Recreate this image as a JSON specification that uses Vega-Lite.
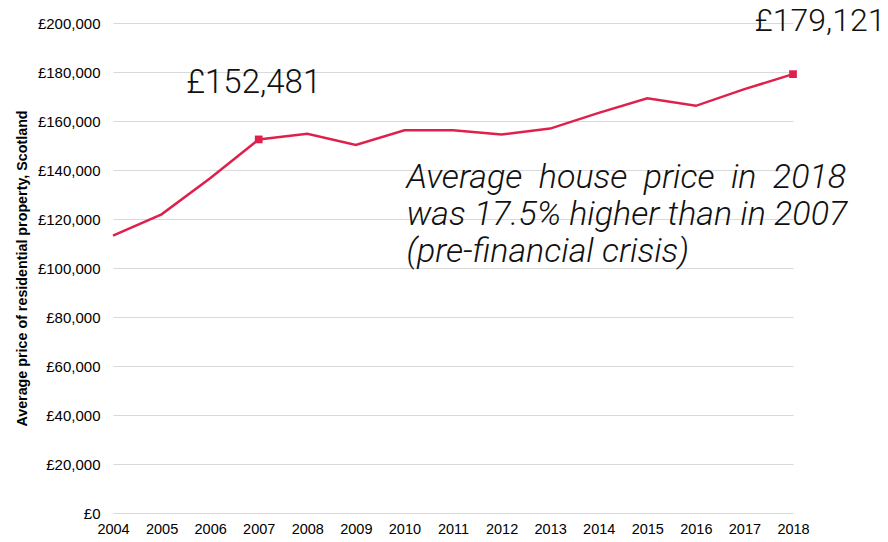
{
  "$schema": "https://vega.github.io/schema/vega-lite/v6.json",
  "autosize": "none",
  "width": 680,
  "height": 490,
  "padding": {"left": 113, "top": 23, "right": 95, "bottom": 29},
  "background": "white",
  "config": {
    "view": {"stroke": null},
    "font": "Liberation Sans"
  },
  "data": {
    "values": [
      {"year": "2004", "price": 113200},
      {"year": "2005", "price": 121900},
      {"year": "2006", "price": 136600},
      {"year": "2007", "price": 152481, "label": "£152,481"},
      {"year": "2008", "price": 154800},
      {"year": "2009", "price": 150200},
      {"year": "2010", "price": 156200},
      {"year": "2011", "price": 156200},
      {"year": "2012", "price": 154500},
      {"year": "2013", "price": 156900},
      {"year": "2014", "price": 163300},
      {"year": "2015", "price": 169300},
      {"year": "2016", "price": 166200},
      {"year": "2017", "price": 173000},
      {"year": "2018", "price": 179121, "label": "£179,121"}
    ]
  },
  "encoding": {
    "x": {
      "field": "year",
      "type": "ordinal",
      "scale": {"type": "point", "padding": 0},
      "axis": {
        "title": null,
        "labelAngle": 0,
        "domain": false,
        "ticks": false,
        "grid": false,
        "labelFont": "Liberation Sans",
        "labelFontSize": 14.5,
        "labelColor": "#000000",
        "labelPadding": 9
      }
    },
    "y": {
      "field": "price",
      "type": "quantitative",
      "scale": {"domain": [0, 200000], "nice": false},
      "axis": {
        "title": "Average price of residential property, Scotland",
        "titleFont": "Liberation Sans",
        "titleFontSize": 14.3,
        "titleFontWeight": "bold",
        "titleColor": "#000000",
        "titlePadding": 8,
        "values": [0, 20000, 40000, 60000, 80000, 100000, 120000, 140000, 160000, 180000, 200000],
        "labelExpr": "'£' + format(datum.value, ',')",
        "labelFont": "Liberation Sans",
        "labelFontSize": 15,
        "labelColor": "#000000",
        "labelPadding": 13,
        "domain": false,
        "ticks": false,
        "grid": true,
        "gridColor": "#d9d9d9",
        "gridWidth": 1
      }
    }
  },
  "layer": [
    {
      "mark": {"type": "line", "color": "#e0204c", "strokeWidth": 2.5}
    },
    {
      "transform": [{"filter": "datum.label != null"}],
      "mark": {"type": "square", "color": "#e0204c", "size": 60, "opacity": 1}
    },
    {
      "transform": [{"filter": "datum.year == '2007'"}],
      "mark": {"type": "text", "font": "Roboto", "fontWeight": 300, "fontSize": 33, "align": "center", "baseline": "alphabetic", "dx": -5, "dy": -46, "color": "#111111"},
      "encoding": {"text": {"field": "label"}}
    },
    {
      "transform": [{"filter": "datum.year == '2018'"}],
      "mark": {"type": "text", "font": "Roboto", "fontWeight": 300, "fontSize": 32, "align": "center", "baseline": "alphabetic", "dx": 27, "dy": -43, "color": "#111111"},
      "encoding": {"text": {"field": "label"}}
    },
    {
      "data": {"values": [{"year": "2010", "price": 132650, "note": ["Average\u00a0\u00a0house\u00a0\u00a0price\u00a0\u00a0in\u00a0\u00a02018", "was 17.5% higher than in 2007", "(pre-financial crisis)"]}]},
      "mark": {"type": "text", "font": "Roboto", "fontWeight": 300, "fontStyle": "italic", "fontSize": 34, "align": "left", "baseline": "alphabetic", "dx": 2, "lineHeight": 37, "color": "#111111"},
      "encoding": {"text": {"field": "note"}}
    }
  ]
}
